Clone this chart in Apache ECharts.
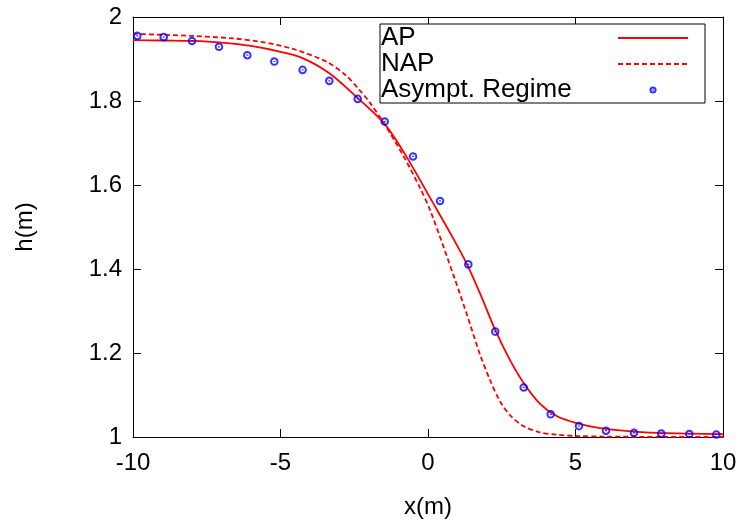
<!DOCTYPE html>
<html>
<head>
<meta charset="utf-8">
<script src="https://cdn.jsdelivr.net/npm/echarts@6/dist/echarts.min.js"></script>
<style>html,body{margin:0;padding:0;background:#fff}#c{width:744px;height:524px}</style>
</head>
<body>
<div id="c"></div>
<script>
// AP (solid)
var apX = [-10, -9, -8, -7, -6, -5, -4.25, -3.345, -2.383, -1.468, -0.75, 0.14, 0.75, 1.31, 1.8, 2.27, 2.78, 3.23, 3.8, 4.36, 5.04, 5.83, 6.96, 8.09, 10];
var apY = [1.945, 1.944, 1.943, 1.939, 1.931, 1.917, 1.902, 1.866, 1.807, 1.745, 1.670, 1.561, 1.486, 1.413, 1.336, 1.256, 1.183, 1.130, 1.079, 1.050, 1.033, 1.021, 1.013, 1.009, 1.007];
// NAP (dashed)
var napX = [-10, -8, -6.6, -5.6, -4.57, -3.43, -2.8, -2.32, -1.98, -1.52, -0.84, -0.27, 0.1, 0.915, 1.35, 1.76, 2.1, 2.44, 2.78, 3.23, 3.8, 4.36, 5.04, 6, 8, 10];
var napY = [1.960, 1.955, 1.949, 1.940, 1.924, 1.893, 1.862, 1.826, 1.797, 1.750, 1.670, 1.593, 1.535, 1.375, 1.285, 1.197, 1.136, 1.085, 1.052, 1.026, 1.011, 1.0055, 1.0024, 1.001, 1.0003, 1.0];
// Asympt. Regime (points)
var asX = [-9.854, -8.959, -8.0, -7.085, -6.125, -5.21, -4.25, -3.345, -2.383, -1.468, -0.508, 0.407, 1.366, 2.28, 3.244, 4.159, 5.119, 6.034, 6.983, 7.908, 8.858, 9.773];
var asY = [1.955, 1.952, 1.943, 1.929, 1.909, 1.894, 1.874, 1.848, 1.805, 1.751, 1.668, 1.562, 1.411, 1.251, 1.118, 1.054, 1.026, 1.015, 1.010, 1.008, 1.007, 1.006];
var xTicks = [-10, -5, 0, 5, 10];
var yTicks = [1, 1.2, 1.4, 1.6, 1.8, 2];
var seriesNames = ['AP', 'NAP', 'Asympt. Regime'];

function zip(a, b) { return a.map(function (v, i) { return [v, b[i]]; }); }

var FONT = '"Liberation Sans", Arial, sans-serif';
var ringSymbol = 'path://M0,0M14,14M10.3,7A3.3,3.3 0 1,1 3.7,7A3.3,3.3 0 1,1 10.3,7ZM7,6.4L7,7.6';
var legendRing = 'path://M0,0M14,14M9.6,7A2.6,2.6 0 1,1 4.4,7A2.6,2.6 0 1,1 9.6,7ZM7,6.6L7,7.4';

var axisCommon = {
  type: 'value',
  axisLine: { show: true, onZero: false, lineStyle: { color: '#000', width: 1 } },
  axisTick: { show: true, inside: true, length: 8, lineStyle: { color: '#000', width: 1 } },
  splitLine: { show: false }
};

var hiddenSymbol = { color: 'rgba(0,0,0,0)', borderColor: 'rgba(0,0,0,0)', borderWidth: 0, opacity: 0 };

var chart = echarts.init(document.getElementById('c'), null, { renderer: 'canvas' });
chart.setOption({
  animation: false,
  backgroundColor: '#fff',
  grid: { left: 133, right: 21, top: 17, bottom: 87, containLabel: false },
  xAxis: [
    Object.assign({}, axisCommon, {
      position: 'bottom', min: xTicks[0], max: xTicks[xTicks.length - 1], interval: 5,
      name: 'x(m)', nameLocation: 'middle', nameGap: 58,
      nameTextStyle: { fontFamily: FONT, fontSize: 24, color: '#000' },
      axisLabel: { margin: 14, fontFamily: FONT, fontSize: 24, color: '#000' }
    }),
    Object.assign({}, axisCommon, {
      position: 'top', min: xTicks[0], max: xTicks[xTicks.length - 1], interval: 5,
      axisLabel: { show: false }
    })
  ],
  yAxis: [
    Object.assign({}, axisCommon, {
      position: 'left', min: yTicks[0], max: yTicks[yTicks.length - 1], interval: 0.2,
      name: 'h(m)', nameLocation: 'middle', nameGap: 96, nameRotate: 90,
      nameTextStyle: { fontFamily: FONT, fontSize: 24, color: '#000' },
      axisLabel: { margin: 11, fontFamily: FONT, fontSize: 24, color: '#000' }
    }),
    Object.assign({}, axisCommon, {
      position: 'right', min: yTicks[0], max: yTicks[yTicks.length - 1], interval: 0.2,
      axisLabel: { show: false }
    })
  ],
  legend: {
    orient: 'vertical',
    left: 380, top: 24,
    align: 'right',
    itemWidth: 70, itemHeight: 14,
    itemGap: 0,
    padding: [1, 16, 0, 1],
    borderColor: '#000', borderWidth: 1,
    backgroundColor: '#fff',
    selectedMode: false,
    formatter: function (n) { return '{t|' + n + '}'; },
    textStyle: {
      fontFamily: FONT, fontSize: 26, color: '#000',
      rich: { t: { width: 232, align: 'left', fontFamily: FONT, fontSize: 26, lineHeight: 26.5, color: '#000' } }
    },
    data: [
      { name: seriesNames[0], itemStyle: hiddenSymbol },
      { name: seriesNames[1], itemStyle: hiddenSymbol },
      { name: seriesNames[2], icon: legendRing, itemStyle: { color: 'rgba(0,0,0,0)', borderColor: '#0000ff', borderWidth: 2 } }
    ]
  },
  series: [
    {
      name: seriesNames[0], type: 'line', data: zip(apX, apY), symbol: 'none', smooth: 0.3,
      lineStyle: { color: '#ff0000', width: 1.8 }, itemStyle: { color: '#ff0000' }, z: 2
    },
    {
      name: seriesNames[1], type: 'line', data: zip(napX, napY), symbol: 'none', smooth: 0.3,
      lineStyle: { color: '#ff0000', width: 1.8, type: [5, 3] }, itemStyle: { color: '#ff0000' }, z: 2
    },
    {
      name: seriesNames[2], type: 'scatter', data: zip(asX, asY), symbol: ringSymbol, symbolSize: 14,
      itemStyle: { color: 'rgba(0,0,0,0)', borderColor: '#0000ff', borderWidth: 2 }, z: 3
    }
  ]
});
</script>
</body>
</html>
